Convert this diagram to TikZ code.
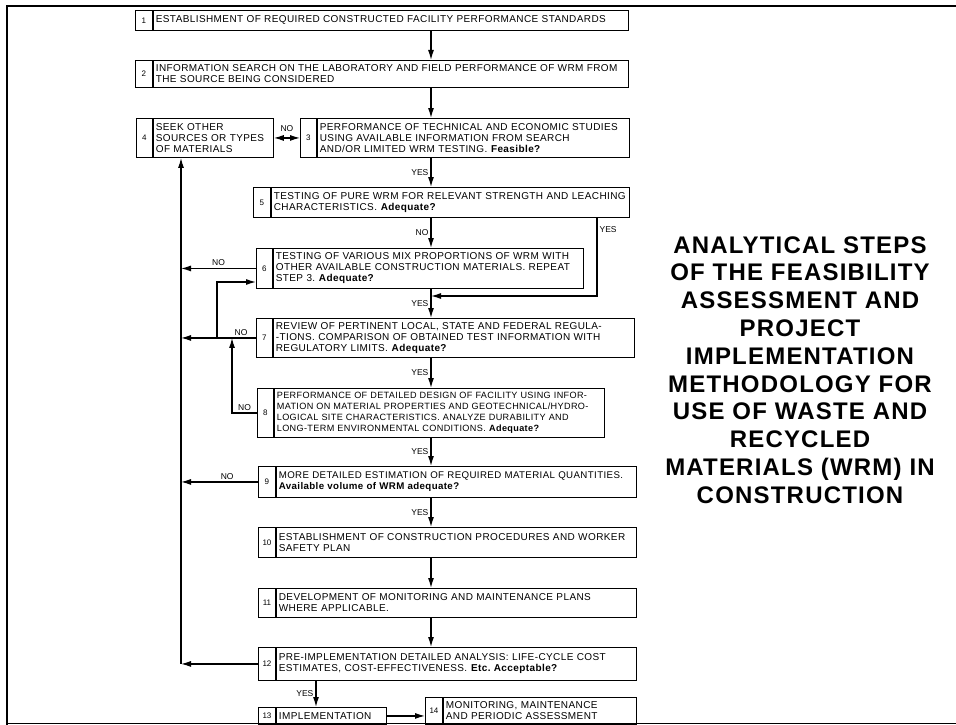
\documentclass[tikz,border=0pt]{standalone}
\usepackage{fontspec}
\setmainfont{Liberation Sans}
\newfontfamily\stepfont[LetterSpace=4]{Liberation Sans}
\newfontfamily\titlefont[LetterSpace=5]{Liberation Sans}
\usepackage{tikz}
\usetikzlibrary{arrows.meta, calc, positioning}
\frenchspacing

\begin{document}
\begin{tikzpicture}[x=1pt, y=-1pt,
		cell/.style={draw, line width=0.9pt, anchor=north west, inner sep=0pt, font=\fontsize{8}{8}\selectfont},
		txt/.style={draw, line width=0.9pt, anchor=north west, inner xsep=2.5pt, inner ysep=0pt, align=left, font=\stepfont\fontsize{10}{11}\selectfont},
		arr/.style={line width=1.2pt, -{Latex[length=10pt, width=6pt]}},
		lbl/.style={font=\fontsize{8.5}{9}\selectfont, inner sep=2pt}]
			\useasboundingbox (0,0) rectangle (956,725);
			
			% Frame
			\draw[line width=2.5pt] (7,725) -- (7,6) -- (956,6);
			\draw[line width=0.6pt] (7,723) -- (956,723);
			
			% Steps
			\node[cell, minimum width=17, minimum height=20] (n1) at (135,10) {1};
			\node[txt, minimum width=475, minimum height=20, text width=470] (b1) at (n1.north east) {ESTABLISHMENT OF REQUIRED CONSTRUCTED FACILITY PERFORMANCE STANDARDS};
			
			\node[cell, minimum width=17, minimum height=27] (n2) at (135,60) {2};
			\node[txt, minimum width=475, minimum height=27, text width=470] (b2) at (n2.north east) {INFORMATION SEARCH ON THE LABORATORY AND FIELD PERFORMANCE OF WRM FROM\\THE SOURCE BEING CONSIDERED};
			
			\node[cell, minimum width=16, minimum height=39] (n3) at (300,118) {3};
			\node[txt, minimum width=312, minimum height=39, text width=307] (b3) at (n3.north east) {PERFORMANCE OF TECHNICAL AND ECONOMIC STUDIES\\USING AVAILABLE INFORMATION FROM SEARCH\\AND/OR LIMITED WRM TESTING. \textbf{Feasible?}};
			
			\node[cell, minimum width=16, minimum height=39] (n4) at (136,118) {4};
			\node[txt, minimum width=120, minimum height=39, text width=115] (b4) at (n4.north east) {SEEK OTHER\\SOURCES OR TYPES\\OF MATERIALS};
			
			\node[cell, minimum width=17, minimum height=30] (n5) at (253,187) {5};
			\node[txt, minimum width=358, minimum height=30, text width=353] (b5) at (n5.north east) {TESTING OF PURE WRM FOR RELEVANT STRENGTH AND LEACHING\\CHARACTERISTICS. \textbf{Adequate?}};
			
			\node[cell, minimum width=16, minimum height=40] (n6) at (256,248) {6};
			\node[txt, minimum width=310, minimum height=40, text width=305] (b6) at (n6.north east) {TESTING OF VARIOUS MIX PROPORTIONS OF WRM WITH\\OTHER AVAILABLE CONSTRUCTION MATERIALS. REPEAT\\STEP 3. \textbf{Adequate?}};
			
			\node[cell, minimum width=16, minimum height=39] (n7) at (256,318) {7};
			\node[txt, minimum width=361, minimum height=39, text width=356] (b7) at (n7.north east) {REVIEW OF PERTINENT LOCAL, STATE AND FEDERAL REGULA-\\-TIONS. COMPARISON OF OBTAINED TEST INFORMATION WITH\\REGULATORY LIMITS. \textbf{Adequate?}};
			
			\node[cell, minimum width=16, minimum height=49] (n8) at (257,388) {8};
			\node[txt, minimum width=330, minimum height=49, text width=325, font=\stepfont\fontsize{9.1}{11}\selectfont] (b8) at (n8.north east) {PERFORMANCE OF DETAILED DESIGN OF FACILITY USING INFOR-\\MATION ON MATERIAL PROPERTIES AND GEOTECHNICAL/HYDRO-\\LOGICAL SITE CHARACTERISTICS. ANALYZE DURABILITY AND\\LONG-TERM ENVIRONMENTAL CONDITIONS. \textbf{Adequate?}};
			
			\node[cell, minimum width=17, minimum height=31] (n9) at (258,466) {9};
			\node[txt, minimum width=360, minimum height=31, text width=355, font=\stepfont\fontsize{9.7}{11}\selectfont] (b9) at (n9.north east) {MORE DETAILED ESTIMATION OF REQUIRED MATERIAL QUANTITIES.\\\textbf{Available volume of WRM adequate?}};
			
			\node[cell, minimum width=17, minimum height=30] (n10) at (258,527) {10};
			\node[txt, minimum width=360, minimum height=30, text width=355] (b10) at (n10.north east) {ESTABLISHMENT OF CONSTRUCTION PROCEDURES AND WORKER\\SAFETY PLAN};
			
			\node[cell, minimum width=17, minimum height=29] (n11) at (258,588) {11};
			\node[txt, minimum width=360, minimum height=29, text width=355] (b11) at (n11.north east) {DEVELOPMENT OF MONITORING AND MAINTENANCE PLANS\\WHERE APPLICABLE.};
			
			\node[cell, minimum width=17, minimum height=33] (n12) at (258,647) {12};
			\node[txt, minimum width=360, minimum height=33, text width=355] (b12) at (n12.north east) {PRE-IMPLEMENTATION DETAILED ANALYSIS: LIFE-CYCLE COST\\ESTIMATES, COST-EFFECTIVENESS. \textbf{Etc. Acceptable?}};
			
			\node[cell, minimum width=17, minimum height=17] (n13) at (258,707) {13};
			\node[txt, minimum width=110, minimum height=17, text width=105] (b13) at (n13.north east) {IMPLEMENTATION};
			
			\node[cell, minimum width=17, minimum height=27] (n14) at (425,697) {14};
			\node[txt, minimum width=193, minimum height=27, text width=188] (b14) at (n14.north east) {MONITORING, MAINTENANCE\\AND PERIODIC ASSESSMENT};
			
			% Guide points
			\coordinate (mid) at (431,0);
			\coordinate (back) at (181,0);
			\coordinate (loop) at (217,282);
			\coordinate (up) at (232,0);
			\coordinate (side) at (597,296);
			\coordinate (c13) at (316,0);
			
			% Main line
			\draw[arr] (b1.south -| mid) -- (b2.north -| mid);
			\draw[arr] (b2.south -| mid) -- (b3.north -| mid);
			\draw[arr] (b3.south -| mid) -- node[lbl, left] {YES} (b5.north -| mid);
			\draw[arr] (b5.south -| mid) -- node[lbl, left] {NO} (b6.north -| mid);
			\draw[arr] (b6.south -| mid) -- node[lbl, left] {YES} (b7.north -| mid);
			\draw[arr] (b7.south -| mid) -- node[lbl, left] {YES} (b8.north -| mid);
			\draw[arr] (b8.south -| mid) -- node[lbl, left] {YES} (b9.north -| mid);
			\draw[arr] (b9.south -| mid) -- node[lbl, left] {YES} (b10.north -| mid);
			\draw[arr] (b10.south -| mid) -- (b11.north -| mid);
			\draw[arr] (b11.south -| mid) -- (b12.north -| mid);
			\draw[arr] (b12.south -| c13) -- node[lbl, left] {YES} (b13.north -| c13);
			\draw[arr] (b13.east) -- (n14.west |- b13.east);
			
			% Step 3 / step 4
			\draw[arr, {Latex[length=10pt, width=6pt]}-{Latex[length=10pt, width=6pt]}] (b4.east) -- node[lbl, above=4pt] {NO} (n3.west);
			
			% Step 5 passes to step 7
			\draw[arr] (b5.south -| side) -- node[lbl, right, pos=0.15] {YES} (side) -- (side -| mid);
			
			% Returns to step 4
			\draw[arr] (n6.west) -- node[lbl, above] {NO} (n6.west -| back);
			\draw[arr] (n7.west) -- node[lbl, above, pos=0.2] {NO} (n7.west -| back);
			\draw[arr] (n7.west -| loop) -- (loop) -- (loop -| n6.west);
			\draw[arr] (n8.west) -- node[lbl, above] {NO} (n8.west -| up) -- (up |- n7.west);
			\draw[arr] (n9.west) -- node[lbl, above, pos=0.4] {NO} (n9.west -| back);
			\draw[arr] (n12.west) -- (n12.west -| back);
			\draw[arr] (n12.west -| back) -- (b4.south -| back);
			
			% Title
			\node[align=center, font=\titlefont\fontsize{24}{27.8}\selectfont\bfseries] (title) at (800,370) {ANALYTICAL STEPS\\OF THE FEASIBILITY\\ASSESSMENT AND\\PROJECT\\IMPLEMENTATION\\METHODOLOGY FOR\\USE OF WASTE AND\\RECYCLED\\MATERIALS (WRM) IN\\CONSTRUCTION};
		\end{tikzpicture}
\end{document}
